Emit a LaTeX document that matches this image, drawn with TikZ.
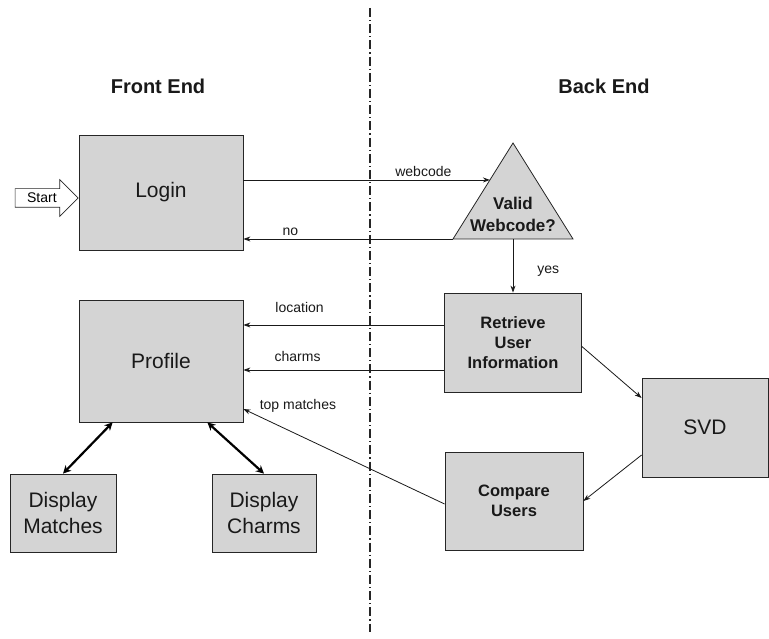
\documentclass[tikz,border=0pt]{standalone}
\usepackage{fontspec}
\setmainfont{Liberation Sans}
\usetikzlibrary{arrows.meta,shapes.arrows,calc}

\tikzset{
	box/.style={draw=black!85, fill=black!17, line width=0.8pt, align=center,
		text=black!90, font=\fontsize{21}{26}\selectfont},
	boldbox/.style={box, font=\fontsize{16.5}{20}\selectfont\bfseries},
	flowlabel/.style={inner sep=1pt, text=black!90, font=\fontsize{14}{16}\selectfont},
	heading/.style={font=\fontsize{20}{24}\selectfont\bfseries, text=black!90},
}

\begin{document}
\begin{tikzpicture}[x=1pt,y=-1pt]
		\useasboundingbox (0,0) rectangle (769,639);

		% divider between the two ends
		\coordinate (divtop) at (370,8);
		\coordinate (divbot) at (370,632);
		\draw [line width=1.3pt, black!85, dash pattern=on 9pt off 3pt on 1.2pt off 3pt] (divtop) -- (divbot);

		\node [heading] (front) at (158,86) {Front End};
		\node [heading] (back) at (604,86) {Back End};

		\begin{scope}[every node/.style={box}]
			\node [minimum width=164pt, minimum height=115pt] (login) at (161,192.5) {Login};
			\node [minimum width=164pt, minimum height=122pt] (profile) at (161,361) {Profile};
			\node [minimum width=106pt, minimum height=78pt] (dmatch) at (63,513) {Display\\Matches};
			\node [minimum width=104pt, minimum height=78pt] (dcharm) at (264,513) {Display\\Charms};
			\node [minimum width=126pt, minimum height=99pt] (svd) at (705,427.5) {SVD};
		\end{scope}

		\begin{scope}[every node/.style={boldbox}]
			\node [minimum width=137pt, minimum height=99pt] (retrieve) at (513,342.5) {Retrieve\\User\\Information};
			\node [minimum width=138pt, minimum height=98pt] (compare) at (514,501) {Compare\\Users};
		\end{scope}

		% the webcode check
		\coordinate (vtop) at (513,143);
		\coordinate (vleft) at (453,239);
		\coordinate (vright) at (573,239);
		\coordinate (vbot) at ($(vleft)!0.5!(vright)$);
		\coordinate (webin) at ($(vtop)!0.385!(vleft)$);
		\draw [draw=black!85, fill=black!17, line width=0.8pt] (vtop) -- (vright) -- (vleft) -- cycle;
		\node [align=center, text=black!90, font=\fontsize{17}{22}\selectfont\bfseries] (valid) at (513,214) {Valid\\Webcode?};

		\node [single arrow, draw=black!85, fill=white, line width=0.7pt,
			single arrow head extend=9pt, single arrow tip angle=90,
			minimum height=63pt, inner xsep=6pt, inner ysep=4pt,
			text height=10pt, text depth=0pt,
			font=\fontsize{14}{16}\selectfont, anchor=tip] (start) at ([yshift=-5.5pt]login.west) {Start};

		\coordinate (locout) at ([yshift=17.5pt]retrieve.west);
		\coordinate (charmout) at ([yshift=-27.5pt]retrieve.west);

		\begin{scope}[every edge/.style={draw=black!90, line width=0.8pt}]
			\path [-{Stealth[length=7pt,width=5pt]}] (login.east |- webin) edge node [flowlabel, above=2pt, pos=0.73] {webcode} (webin);
			\path [-{Stealth[length=7pt,width=5pt]}] (vleft) edge node [flowlabel, above=1.5pt, pos=0.776] {no} (login.east |- vleft);
			\path [-{Stealth[length=7pt,width=5pt]}] (vbot) edge node [flowlabel, right=23pt, pos=0.6] {yes} (retrieve.north);
			\path [-{Stealth[length=7pt,width=5pt]}] (locout) edge node [flowlabel, above=11pt, pos=0.72] {location} (profile.east |- locout);
			\path [-{Stealth[length=7pt,width=5pt]}] (charmout) edge node [flowlabel, above=7pt, pos=0.73] {charms} (profile.east |- charmout);
			\path [-{Stealth[length=7pt,width=5pt]}] ([yshift=-4pt]retrieve.east) edge ([yshift=29.5pt]svd.west);
			\path [-{Stealth[length=7pt,width=5pt]}] ([yshift=-27.5pt]svd.west) edge (compare.east);
			\path [-{Stealth[length=7pt,width=5pt]}] ([yshift=-3pt]compare.west) edge node [flowlabel, pos=1, anchor=west, xshift=15pt, yshift=3pt] {top matches} ([yshift=-48pt]profile.east);
		\end{scope}

		\begin{scope}[every edge/.style={draw=black, line width=2.2pt}]
			\path [{Stealth[length=8pt,width=8pt]}-{Stealth[length=8pt,width=8pt]}] ([xshift=34pt]profile.south west) edge (dmatch.north);
			\path [{Stealth[length=8pt,width=8pt]}-{Stealth[length=8pt,width=8pt]}] ([xshift=-36pt]profile.south east) edge (dcharm.north);
		\end{scope}

	\end{tikzpicture}
\end{document}
